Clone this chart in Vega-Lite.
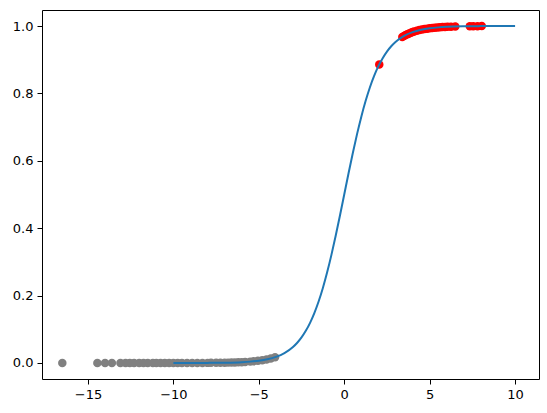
{
  "$schema": "https://vega.github.io/schema/vega-lite/v6.json",
  "width": 497,
  "height": 369,
  "autosize": {"type": "none"},
  "padding": {"left": 42, "top": 10, "right": 8, "bottom": 34},
  "background": "white",
  "config": {
    "view": {"stroke": "black", "strokeWidth": 1},
    "axis": {
      "grid": false,
      "domain": false,
      "ticks": true,
      "tickColor": "black",
      "tickSize": 5,
      "tickWidth": 1,
      "labelFont": "DejaVu Sans",
      "labelFontSize": 13,
      "labelColor": "black",
      "labelPadding": 4,
      "title": null
    }
  },
  "datasets": {
    "gray": [
      {"x": -16.5, "y": 0.0000001},
      {"x": -14.45, "y": 0.0000005},
      {"x": -14.0, "y": 0.0000008},
      {"x": -13.6, "y": 0.0000012},
      {"x": -13.1, "y": 0.000002},
      {"x": -12.8, "y": 0.0000028},
      {"x": -12.55, "y": 0.0000035},
      {"x": -12.3, "y": 0.0000045},
      {"x": -12.0, "y": 0.000006},
      {"x": -11.75, "y": 0.0000079},
      {"x": -11.5, "y": 0.00001},
      {"x": -11.2, "y": 0.000014},
      {"x": -11.0, "y": 0.000017},
      {"x": -10.75, "y": 0.000021},
      {"x": -10.5, "y": 0.000028},
      {"x": -10.25, "y": 0.000035},
      {"x": -10.0, "y": 0.000045},
      {"x": -9.75, "y": 0.000058},
      {"x": -9.5, "y": 0.000075},
      {"x": -9.2, "y": 0.0001},
      {"x": -8.9, "y": 0.000136},
      {"x": -8.6, "y": 0.000184},
      {"x": -8.3, "y": 0.000248},
      {"x": -8.0, "y": 0.000335},
      {"x": -7.8, "y": 0.00041},
      {"x": -7.5, "y": 0.00055},
      {"x": -7.25, "y": 0.00071},
      {"x": -7.0, "y": 0.00091},
      {"x": -6.8, "y": 0.00111},
      {"x": -6.6, "y": 0.00136},
      {"x": -6.4, "y": 0.00166},
      {"x": -6.2, "y": 0.00203},
      {"x": -6.0, "y": 0.00247},
      {"x": -5.8, "y": 0.00302},
      {"x": -5.5, "y": 0.00407},
      {"x": -5.3, "y": 0.00497},
      {"x": -5.05, "y": 0.00637},
      {"x": -4.8, "y": 0.00816},
      {"x": -4.55, "y": 0.01046},
      {"x": -4.3, "y": 0.01339},
      {"x": -4.05, "y": 0.01713}
    ],
    "red": [
      {"x": 2.05, "y": 0.8860},
      {"x": 3.4, "y": 0.9677},
      {"x": 3.5, "y": 0.9707},
      {"x": 3.6, "y": 0.9734},
      {"x": 3.7, "y": 0.9759},
      {"x": 3.8, "y": 0.9781},
      {"x": 3.9, "y": 0.9802},
      {"x": 4.0, "y": 0.9820},
      {"x": 4.1, "y": 0.9837},
      {"x": 4.25, "y": 0.9859},
      {"x": 4.4, "y": 0.9879},
      {"x": 4.55, "y": 0.9895},
      {"x": 4.7, "y": 0.9910},
      {"x": 4.85, "y": 0.9922},
      {"x": 5.0, "y": 0.9933},
      {"x": 5.15, "y": 0.9942},
      {"x": 5.3, "y": 0.9950},
      {"x": 5.45, "y": 0.9957},
      {"x": 5.6, "y": 0.9963},
      {"x": 5.75, "y": 0.9968},
      {"x": 5.9, "y": 0.9973},
      {"x": 6.05, "y": 0.9976},
      {"x": 6.25, "y": 0.9981},
      {"x": 6.5, "y": 0.9985},
      {"x": 7.35, "y": 0.9994},
      {"x": 7.55, "y": 0.9995},
      {"x": 7.8, "y": 0.9996},
      {"x": 8.05, "y": 0.9997}
    ],
    "curve": [
      {"x": -10, "y": 0.0000454},
      {"x": -9, "y": 0.000123},
      {"x": -8, "y": 0.000335},
      {"x": -7, "y": 0.000911},
      {"x": -6, "y": 0.00247},
      {"x": -5.5, "y": 0.00407},
      {"x": -5, "y": 0.00669},
      {"x": -4.5, "y": 0.01099},
      {"x": -4, "y": 0.01799},
      {"x": -3.5, "y": 0.02931},
      {"x": -3, "y": 0.04743},
      {"x": -2.75, "y": 0.06009},
      {"x": -2.5, "y": 0.07586},
      {"x": -2.25, "y": 0.09534},
      {"x": -2, "y": 0.11920},
      {"x": -1.75, "y": 0.14805},
      {"x": -1.5, "y": 0.18243},
      {"x": -1.25, "y": 0.22270},
      {"x": -1, "y": 0.26894},
      {"x": -0.75, "y": 0.32082},
      {"x": -0.5, "y": 0.37754},
      {"x": -0.25, "y": 0.43782},
      {"x": 0, "y": 0.5},
      {"x": 0.25, "y": 0.56218},
      {"x": 0.5, "y": 0.62246},
      {"x": 0.75, "y": 0.67918},
      {"x": 1, "y": 0.73106},
      {"x": 1.25, "y": 0.77730},
      {"x": 1.5, "y": 0.81757},
      {"x": 1.75, "y": 0.85195},
      {"x": 2, "y": 0.88080},
      {"x": 2.25, "y": 0.90466},
      {"x": 2.5, "y": 0.92414},
      {"x": 2.75, "y": 0.93991},
      {"x": 3, "y": 0.95257},
      {"x": 3.5, "y": 0.97069},
      {"x": 4, "y": 0.98201},
      {"x": 4.5, "y": 0.98901},
      {"x": 5, "y": 0.99331},
      {"x": 5.5, "y": 0.99593},
      {"x": 6, "y": 0.99753},
      {"x": 7, "y": 0.99909},
      {"x": 8, "y": 0.99966},
      {"x": 9, "y": 0.99988},
      {"x": 10, "y": 0.99995}
    ]
  },
  "layer": [
    {
      "data": {"name": "gray"},
      "mark": {"type": "circle", "size": 72, "color": "#808080", "opacity": 1},
      "encoding": {
        "x": {"field": "x", "type": "quantitative", "scale": {"domain": [-17.69, 11.40], "nice": false, "zero": false}, "axis": {"values": [-15, -10, -5, 0, 5, 10], "labelExpr": "replace(format(datum.value, 'd'), '-', '\u2212')"}},
        "y": {"field": "y", "type": "quantitative", "scale": {"domain": [-0.0475, 1.0475], "nice": false, "zero": false}, "axis": {"values": [0, 0.2, 0.4, 0.6, 0.8, 1.0], "format": ".1f"}}
      }
    },
    {
      "data": {"name": "red"},
      "mark": {"type": "circle", "size": 72, "color": "#ff0000", "opacity": 1},
      "encoding": {
        "x": {"field": "x", "type": "quantitative"},
        "y": {"field": "y", "type": "quantitative"}
      }
    },
    {
      "data": {"name": "curve"},
      "mark": {"type": "line", "color": "#1f77b4", "strokeWidth": 2, "interpolate": "monotone"},
      "encoding": {
        "x": {"field": "x", "type": "quantitative"},
        "y": {"field": "y", "type": "quantitative"}
      }
    }
  ]
}
